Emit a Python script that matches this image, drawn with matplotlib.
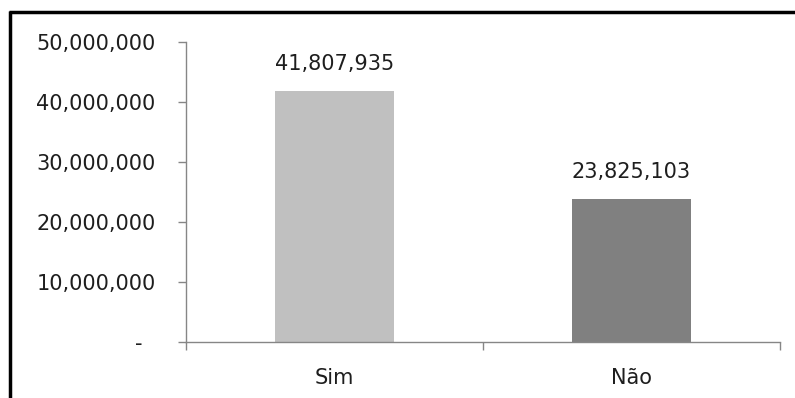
import matplotlib.pyplot as plt
from matplotlib.lines import Line2D
from matplotlib.ticker import FuncFormatter

categories = ["Sim", "Não"]
values = [41807935, 23825103]
bar_colors = ["#C0C0C0", "#808080"]
y_ticks = [0, 10000000, 20000000, 30000000, 40000000, 50000000]

plt.rcParams['font.family'] = ['DejaVu Sans']
axis_gray = "#868686"
text_color = "#1e1e1e"


def fmt_thousands(v, pos):
    if v == 0:
        return "-  "
    return f"{v:,.0f}"


fig = plt.figure(figsize=(7.95, 3.98), dpi=100)
ax = fig.add_axes([186 / 795, 1 - 342 / 398, (780 - 186) / 795, 300 / 398])

xs = list(range(len(categories)))
ax.bar(xs, values, width=0.4, color=bar_colors, zorder=2)

for x, v in zip(xs, values):
    ax.annotate(f"{v:,}", (x, v), xytext=(0, 12), textcoords="offset points",
                ha="center", va="bottom", fontsize=15, color=text_color)

ax.set_xlim(-0.5, len(categories) - 0.5)
ax.set_ylim(0, 50000000)
ax.set_yticks(y_ticks)
ax.yaxis.set_major_formatter(FuncFormatter(fmt_thousands))

ax.set_xticks(xs)
ax.set_xticklabels(categories)
ax.set_xticks([i - 0.5 for i in range(len(categories) + 1)], minor=True)

ax.tick_params(axis="y", length=6, width=1, color=axis_gray, pad=16,
               labelsize=15, labelcolor=text_color)
ax.tick_params(axis="x", which="major", length=0, pad=19,
               labelsize=15, labelcolor=text_color)
ax.tick_params(axis="x", which="minor", length=6, width=1, color=axis_gray)

for side in ["top", "right"]:
    ax.spines[side].set_visible(False)
for side in ["left", "bottom"]:
    ax.spines[side].set_color(axis_gray)
    ax.spines[side].set_linewidth(1)

# outer chart border (left and top edges)
fig.add_artist(Line2D([10 / 795, 10 / 795], [0, 1 - 11 / 398], transform=fig.transFigure,
                      color="black", linewidth=2.5, solid_capstyle="butt"))
fig.add_artist(Line2D([9 / 795, 1], [1 - 12 / 398, 1 - 12 / 398], transform=fig.transFigure,
                      color="black", linewidth=2.5, solid_capstyle="butt"))

fig.savefig("out.png", dpi=100)
